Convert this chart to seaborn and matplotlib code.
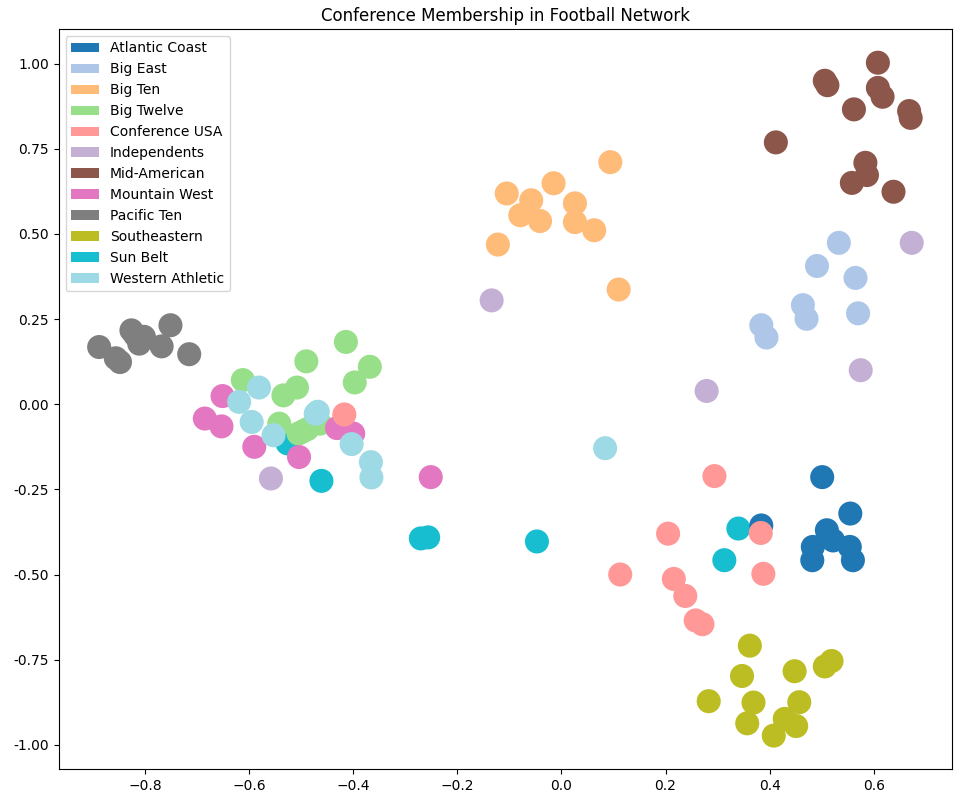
import numpy as np
import pandas as pd
import seaborn as sns
import matplotlib
matplotlib.use("Agg")
import matplotlib.pyplot as plt
from matplotlib.patches import Patch

conferences = ["Atlantic Coast", "Big East", "Big Ten", "Big Twelve", "Conference USA",
               "Independents", "Mid-American", "Mountain West", "Pacific Ten",
               "Southeastern", "Sun Belt", "Western Athletic"]
colors = ["#1f77b4", "#aec7e8", "#ffbb78", "#98df8a", "#ff9896", "#c5b0d5",
          "#8c564b", "#e377c2", "#7f7f7f", "#bcbd22", "#17becf", "#9edae5"]

atlantic_x = [0.501, 0.555, 0.510, 0.384, 0.483, 0.522, 0.554, 0.482, 0.560]
atlantic_y = [-0.214, -0.321, -0.370, -0.356, -0.419, -0.400, -0.419, -0.458, -0.458]

bigeast_x = [0.533, 0.491, 0.565, 0.464, 0.471, 0.570, 0.384, 0.394]
bigeast_y = [0.474, 0.406, 0.371, 0.291, 0.251, 0.267, 0.232, 0.196]

bigten_x = [0.094, -0.105, -0.015, -0.058, -0.079, -0.041, 0.026, 0.026, 0.063, -0.122, 0.110]
bigten_y = [0.711, 0.619, 0.649, 0.599, 0.555, 0.538, 0.590, 0.535, 0.511, 0.469, 0.337]

bigtwelve_x = [-0.414, -0.490, -0.368, -0.397, -0.612, -0.534, -0.508, -0.542, -0.505,
               -0.488, -0.464, -0.497]
bigtwelve_y = [0.183, 0.126, 0.110, 0.064, 0.071, 0.026, 0.049, -0.057, -0.086,
               -0.073, -0.057, -0.080]

cusa_x = [0.294, 0.205, 0.383, 0.388, 0.113, 0.216, 0.238, 0.258, 0.271, -0.417]
cusa_y = [-0.211, -0.380, -0.378, -0.498, -0.500, -0.513, -0.563, -0.635, -0.646, -0.030]

indep_x = [0.673, 0.575, 0.279, -0.134, -0.558]
indep_y = [0.474, 0.100, 0.039, 0.305, -0.218]

midam_x = [0.608, 0.506, 0.511, 0.608, 0.617, 0.562, 0.668, 0.671, 0.412, 0.584,
           0.587, 0.558, 0.638]
midam_y = [1.003, 0.950, 0.937, 0.929, 0.903, 0.866, 0.861, 0.841, 0.769, 0.709,
           0.673, 0.650, 0.624]

mwest_x = [-0.651, -0.685, -0.653, -0.590, -0.504, -0.431, -0.400, -0.251]
mwest_y = [0.024, -0.042, -0.065, -0.125, -0.155, -0.070, -0.086, -0.214]

pac10_x = [-0.888, -0.856, -0.848, -0.826, -0.811, -0.802, -0.768, -0.751, -0.715, -0.819]
pac10_y = [0.168, 0.135, 0.124, 0.217, 0.178, 0.198, 0.170, 0.232, 0.147, 0.203]

sec_x = [0.362, 0.347, 0.448, 0.506, 0.519, 0.283, 0.369, 0.457, 0.357, 0.429, 0.451, 0.408]
sec_y = [-0.709, -0.798, -0.784, -0.770, -0.754, -0.872, -0.876, -0.875, -0.937,
         -0.924, -0.945, -0.973]

sunbelt_x = [-0.526, -0.461, -0.270, -0.256, -0.047, 0.340, 0.313]
sunbelt_y = [-0.115, -0.225, -0.394, -0.391, -0.403, -0.365, -0.458]

wac_x = [-0.581, -0.619, -0.595, -0.553, -0.468, -0.403, -0.366, -0.365, 0.084, -0.472]
wac_y = [0.049, 0.007, -0.052, -0.091, -0.022, -0.117, -0.170, -0.215, -0.129, -0.028]

series = {
    "Sun Belt": (sunbelt_x, sunbelt_y),
    "Atlantic Coast": (atlantic_x, atlantic_y),
    "Big East": (bigeast_x, bigeast_y),
    "Big Ten": (bigten_x, bigten_y),
    "Big Twelve": (bigtwelve_x, bigtwelve_y),
    "Independents": (indep_x, indep_y),
    "Mid-American": (midam_x, midam_y),
    "Pacific Ten": (pac10_x, pac10_y),
    "Southeastern": (sec_x, sec_y),
    "Mountain West": (mwest_x, mwest_y),
    "Western Athletic": (wac_x, wac_y),
    "Conference USA": (cusa_x, cusa_y),
}

frames = []
for conf, (xs, ys) in series.items():
    frames.append(pd.DataFrame({"x": xs, "y": ys, "conference": conf}))
df = pd.concat(frames, ignore_index=True)

palette = dict(zip(conferences, colors))

fig = plt.figure(figsize=(9.6, 8.01), dpi=100)
ax = fig.add_axes([0.061, 0.0396, 0.931, 0.9242])
sns.scatterplot(data=df, x="x", y="y", hue="conference", hue_order=conferences,
                palette=palette, s=300, linewidth=0, ax=ax, legend=False)

ax.set_xlim(-0.966, 0.751)
ax.set_ylim(-1.072, 1.102)
ax.set_xticks(np.arange(-0.8, 0.61, 0.2))
ax.set_yticks(np.arange(-1.0, 1.01, 0.25))
ax.yaxis.set_major_formatter(matplotlib.ticker.FormatStrFormatter("%.2f"))
ax.set_xlabel("")
ax.set_ylabel("")
ax.set_title("Conference Membership in Football Network", fontsize=12)

handles = [Patch(facecolor=c, label=n) for n, c in zip(conferences, colors)]
ax.legend(handles=handles, loc="upper left", fontsize=10)

fig.savefig("out.png", dpi=100)
